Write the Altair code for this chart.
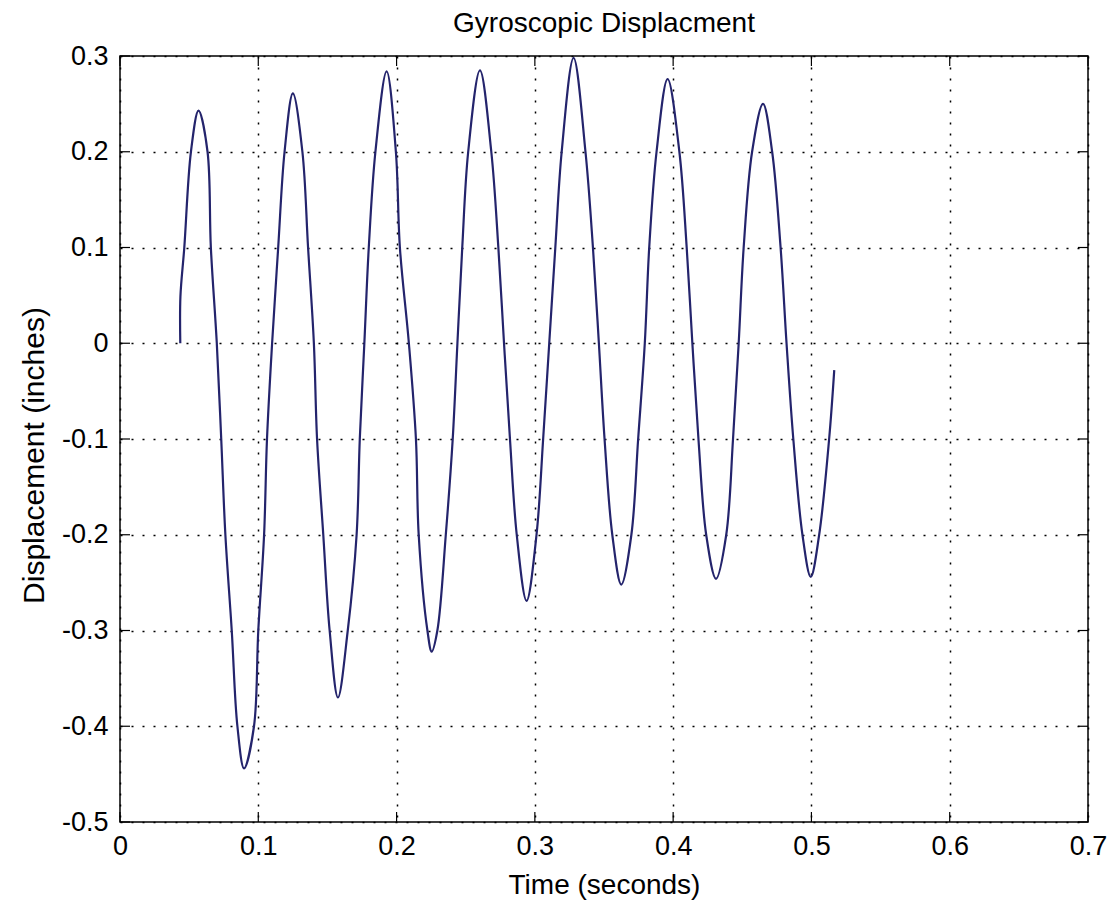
import altair as alt
import pandas as pd

# Time (seconds) and displacement (inches)
time_s = [
    0.0436, 0.0437, 0.0465, 0.0513, 0.0568, 0.0633, 0.0657, 0.0700, 0.0732, 0.0762,
    0.0808, 0.0849, 0.0897, 0.0969, 0.1000, 0.1042, 0.1063, 0.1100, 0.1144, 0.1190,
    0.1250, 0.1319, 0.1360, 0.1402, 0.1425, 0.1470, 0.1516, 0.1576, 0.1647, 0.1711,
    0.1734, 0.1767, 0.1799, 0.1847, 0.1928, 0.1995, 0.2024, 0.2089, 0.2140, 0.2160,
    0.2223, 0.2254, 0.2295, 0.2356, 0.2406, 0.2440, 0.2475, 0.2518, 0.2603, 0.2685,
    0.2736, 0.2777, 0.2820, 0.2869, 0.2940, 0.3012, 0.3060, 0.3104, 0.3148, 0.3194,
    0.3280, 0.3366, 0.3420, 0.3463, 0.3504, 0.3560, 0.3625, 0.3698, 0.3747, 0.3795,
    0.3827, 0.3880, 0.3960, 0.4045, 0.4098, 0.4139, 0.4183, 0.4239, 0.4310, 0.4384,
    0.4433, 0.4474, 0.4510, 0.4571, 0.4650, 0.4716, 0.4777, 0.4820, 0.4869, 0.4935,
    0.4995, 0.5056, 0.5128, 0.5165,
]
displacement_in = [
    0.000, 0.049, 0.100, 0.200, 0.243, 0.200, 0.100, 0.000, -0.100, -0.200,
    -0.300, -0.400, -0.444, -0.400, -0.300, -0.200, -0.100, 0.000, 0.100, 0.200,
    0.261, 0.200, 0.100, 0.000, -0.100, -0.200, -0.300, -0.370, -0.300, -0.200,
    -0.100, 0.000, 0.100, 0.200, 0.284, 0.200, 0.100, 0.000, -0.100, -0.200,
    -0.300, -0.322, -0.300, -0.200, -0.100, 0.000, 0.100, 0.200, 0.285, 0.200,
    0.100, 0.000, -0.100, -0.200, -0.269, -0.200, -0.100, 0.000, 0.100, 0.200,
    0.298, 0.200, 0.100, 0.000, -0.100, -0.200, -0.252, -0.200, -0.100, 0.000,
    0.100, 0.200, 0.276, 0.200, 0.100, 0.000, -0.100, -0.200, -0.246, -0.200,
    -0.100, 0.000, 0.100, 0.200, 0.250, 0.200, 0.100, 0.000, -0.100, -0.200,
    -0.244, -0.200, -0.100, -0.028,
]
x_ticks = [0, 0.1, 0.2, 0.3, 0.4, 0.5, 0.6, 0.7]
y_ticks = [-0.5, -0.4, -0.3, -0.2, -0.1, 0, 0.1, 0.2, 0.3]

W, H = 968, 766
TICK = 10
FONT = "Liberation Sans"

df = pd.DataFrame({"t": time_s, "d": displacement_in})
xt = pd.DataFrame({"t": x_ticks})
yt = pd.DataFrame({"d": y_ticks})

xs = alt.Scale(domain=[0, 0.7], nice=False, zero=False)
ys = alt.Scale(domain=[-0.5, 0.3], nice=False, zero=False)

label_expr = "datum.value == 0 ? '0' : (datum.value < 0 ? '-' : '') + format(abs(datum.value), '.1f')"

line = alt.Chart(df).mark_line(
    color="#24246c", strokeWidth=2.2, interpolate="catmull-rom", clip=True
).encode(
    x=alt.X("t:Q", scale=xs, axis=alt.Axis(
        values=x_ticks, title="Time (seconds)", labelExpr=label_expr,
        grid=True, ticks=False, domain=False, labelPadding=11, labelFlush=False,
        labelFontSize=27, titleFontSize=28, titleY=71, titleBaseline="alphabetic",
    )),
    y=alt.Y("d:Q", scale=ys, axis=alt.Axis(
        values=y_ticks, title="Displacement (inches)", labelExpr=label_expr,
        grid=True, ticks=False, domain=False, labelPadding=12, labelFlush=False,
        labelFontSize=27, titleFontSize=30, titleX=-77, titleY=399,
        titleBaseline="alphabetic", titleAngle=270,
    )),
)

bottom = alt.Chart(xt).mark_rule(color="black", strokeWidth=1.2).encode(
    x=alt.X("t:Q", scale=xs), y=alt.value(H), y2=alt.value(H - TICK))
top = alt.Chart(xt).mark_rule(color="black", strokeWidth=1.2).encode(
    x=alt.X("t:Q", scale=xs), y=alt.value(0), y2=alt.value(TICK))
left = alt.Chart(yt).mark_rule(color="black", strokeWidth=1.2).encode(
    y=alt.Y("d:Q", scale=ys), x=alt.value(0), x2=alt.value(TICK))
right = alt.Chart(yt).mark_rule(color="black", strokeWidth=1.2).encode(
    y=alt.Y("d:Q", scale=ys), x=alt.value(W), x2=alt.value(W - TICK))

chart = alt.layer(line, bottom, top, left, right).properties(
    width=W, height=H,
    title=alt.TitleParams("Gyroscopic Displacment", fontSize=28, font=FONT,
                          fontWeight="normal", color="black", anchor="middle",
                          offset=10, baseline="alphabetic", dy=28),
    autosize=alt.AutoSizeParams(type="none"),
    padding={"left": 120, "top": 56, "right": 26, "bottom": 83},
    background="white",
).configure_view(
    stroke="black", strokeWidth=1.5
).configure_axis(
    gridColor="black", gridDash=[2, 9], gridWidth=1.5, gridOpacity=1,
    labelFont=FONT, titleFont=FONT, labelColor="black", titleColor="black",
    titleFontWeight="normal",
)

chart.save("out.html", embed_options={"renderer": "svg", "actions": False})
